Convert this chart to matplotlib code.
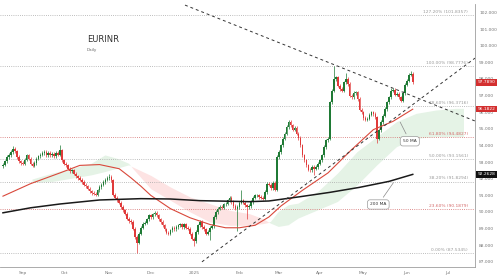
import numpy as np
import pandas as pd
import matplotlib
matplotlib.use("Agg")
from matplotlib import pyplot as plt

symbol = "EURINR"
timeframe = "Daily"
start_date = "2024-08-19"

# daily closes, one per trading day
closes = [
    92.85, 93.05, 93.30, 93.42, 93.60, 93.80, 93.65, 93.30, 93.05, 92.95,
    92.90, 93.15, 93.40, 93.20, 92.90, 92.78, 92.95, 93.20, 93.35, 93.45,
    93.55, 93.60, 93.40, 93.55, 93.40, 93.50, 93.35, 93.55, 93.45, 93.70,
    93.10, 92.90, 92.80, 92.60, 92.45, 92.50, 92.30, 92.15, 92.05, 91.95,
    91.80, 91.65, 91.55, 91.40, 91.25, 91.15, 91.10, 91.05, 91.30, 91.50,
    91.65, 91.80, 91.95, 92.05, 92.10, 91.90, 91.05, 90.85, 90.70, 90.55,
    90.30, 90.10, 89.90, 89.60, 89.45, 89.40, 89.00, 88.50, 88.15, 88.70,
    89.05, 89.30, 89.35, 89.55, 89.80, 89.70, 89.85, 89.95, 89.80, 89.55,
    89.40, 89.20, 88.95, 88.75, 88.70, 88.90, 89.05, 88.95, 89.10, 89.20,
    89.25, 89.10, 89.25, 89.05, 89.00, 88.70, 88.40, 88.25, 88.80, 89.20,
    89.40, 89.10, 88.95, 88.70, 88.80, 89.05, 89.15, 89.70, 90.00, 90.20,
    90.30, 90.25, 90.45, 90.50, 90.70, 90.85, 90.60, 90.35, 90.20, 90.30,
    90.55, 90.70, 90.55, 90.40, 90.30, 90.35, 90.60, 90.85, 91.00, 91.00,
    90.90, 90.85, 90.80, 91.20, 91.70, 91.65, 91.45, 91.75, 91.35, 93.30,
    93.60, 94.00, 94.40, 94.70, 95.10, 95.40, 95.20, 94.95, 95.05, 94.70,
    94.45, 94.00, 93.40, 93.10, 92.80, 92.55, 92.50, 92.70, 92.60, 92.70,
    92.90, 93.10, 93.40, 93.90, 94.30, 94.40, 96.60, 97.30, 98.00, 98.10,
    97.60, 97.40, 97.30, 97.80, 98.00, 97.70, 97.00, 96.90, 97.15, 97.20,
    96.80, 96.15, 96.00, 95.65, 95.55, 95.60, 95.85, 96.00, 95.90, 95.70,
    94.40, 94.90, 95.40, 95.80, 96.20, 96.60, 96.90, 97.30, 97.35, 97.05,
    97.10, 96.90, 96.70, 97.15, 97.65, 97.90, 98.25, 98.30, 97.79,
]
first_open = 92.75
wick_highs = {5: 93.95, 29: 94.05, 54: 92.30, 121: 91.30, 145: 95.55, 168: 98.78,
              174: 98.35, 197: 97.45, 207: 98.50}
wick_lows = {68: 87.53, 97: 87.95, 105: 88.30, 119: 88.85, 124: 89.60, 158: 92.25,
             190: 94.15}

# moving averages (bar index, value)
ma50_idx = [0, 14, 29, 39, 49, 59, 65, 70, 75, 85, 95, 105, 113, 120, 128, 135,
            141, 152, 165, 177, 188, 198, 208]
ma50_val = [90.95, 91.70, 92.35, 92.80, 92.85, 92.60, 92.05, 91.55, 91.00, 90.20,
            89.65, 89.25, 89.05, 89.05, 89.20, 89.70, 90.35, 91.30, 92.35, 93.75,
            94.95, 95.45, 96.18]
ma200_idx = [0, 14, 29, 49, 70, 85, 100, 125, 135, 151, 166, 181, 196, 208]
ma200_val = [89.95, 90.25, 90.48, 90.72, 90.80, 90.78, 90.68, 90.62, 90.66, 90.92,
             91.18, 91.48, 91.84, 92.26]

# ichimoku cloud, leading spans (bar index, value)
cloud_idx = [15, 25, 35, 45, 52, 58, 64, 66, 75, 85, 95, 105, 115, 125, 132, 136,
             140, 145, 150, 160, 170, 180, 190, 200, 210, 220, 230, 234]
span_a = [91.95, 92.30, 92.60, 92.90, 93.40, 93.20, 92.90, 92.60, 91.40, 90.70,
          90.00, 89.40, 89.20, 89.20, 89.30, 89.40, 90.00, 90.40, 90.50, 91.20,
          92.30, 93.60, 94.50, 95.40, 95.90, 96.10, 96.20, 96.20]
span_b = [91.75, 91.80, 92.00, 92.20, 92.40, 92.60, 92.80, 92.70, 92.20, 91.50,
          90.90, 90.50, 90.10, 89.90, 89.60, 89.30, 89.10, 89.20, 89.60, 90.10,
          90.60, 91.60, 92.80, 93.90, 94.40, 94.50, 94.50, 94.50]

fib_names = ["127.20%", "100.00%", "78.60%", "61.80%", "50.00%", "38.20%", "23.60%", "0.00%"]
fib_values = [101.8357, 98.7776, 96.3716, 94.4827, 93.1561, 91.8294, 90.1879, 87.5345]
fib_red = ["61.80%", "23.60%"]

trend_down = ([92.4, 239.6], [102.44, 95.47])
trend_up = ([101.0, 239.6], [87.00, 99.25])

last_price = 97.7890
ma50_last = 96.1822
ma200_last = 92.2628

month_labels = ["Sep", "Oct", "Nov", "Dec", "2025", "Feb", "Mar", "Apr", "May", "Jun", "Jul"]

UP = "#1f7a35"
DOWN = "#e03a3a"

fig = plt.figure(figsize=(5, 2.8), dpi=100)
ax = fig.add_axes([0, 0.0464, 0.95, 0.939])

# cloud
ax.fill_between(cloud_idx, span_a, span_b, where=np.array(span_a) >= np.array(span_b),
                interpolate=True, color="#e5f3e6", lw=0, zorder=1)
ax.fill_between(cloud_idx, span_a, span_b, where=np.array(span_a) < np.array(span_b),
                interpolate=True, color="#fde3e3", lw=0, zorder=1)

# fibonacci levels
for name, val in zip(fib_names, fib_values):
    col = "#d46a6a" if name in fib_red else "#9a9a9a"
    ax.axhline(val, color=col if name in fib_red else "#a8a8a8", lw=0.6,
               ls=(0, (1, 1.6)), zorder=2)
    ax.text(236, val + 0.08, f"{name} ({val:.4f})", fontsize=3.2, color=col,
            ha="right", va="bottom", zorder=6)

# candles
closes = np.array(closes)
opens = np.concatenate([[first_open], closes[:-1]])
idx = np.arange(len(closes))
highs = np.maximum(opens, closes) + 0.1
lows = np.minimum(opens, closes) - 0.1
for k, v in wick_highs.items():
    highs[k] = v
for k, v in wick_lows.items():
    lows[k] = v
colors = np.where(closes >= opens, UP, DOWN)
ax.vlines(idx, lows, highs, colors=colors, lw=0.5, zorder=4)
body = np.maximum(np.abs(closes - opens), 0.04)
ax.bar(idx, body, bottom=np.minimum(opens, closes), width=0.8, color=colors, lw=0, zorder=4)

# moving averages
ax.plot(ma50_idx, ma50_val, color="#d9483b", lw=0.8, zorder=5)
ax.plot(ma200_idx, ma200_val, color="#1a1a1a", lw=1.1, zorder=5)

# trend lines
ax.plot(*trend_down, color="#333333", lw=0.7, ls=(0, (3, 3)), zorder=5)
ax.plot(*trend_up, color="#333333", lw=0.7, ls=(0, (3, 3)), zorder=5)

# callouts
box = dict(boxstyle="round,pad=0.6", fc="white", ec="#999999", lw=0.5)
ax.annotate("50 MA", xy=(201, 95.55), xytext=(206.5, 94.25), fontsize=3.2, color="#333333",
            ha="center", va="center", bbox=box, zorder=7,
            arrowprops=dict(arrowstyle="-", color="#888888", lw=0.5))
ax.annotate("200 MA", xy=(199, 91.9), xytext=(190.5, 90.45), fontsize=3.2, color="#333333",
            ha="center", va="center", bbox=box, zorder=7,
            arrowprops=dict(arrowstyle="-", color="#888888", lw=0.5))

# title
ax.text(0.183, 0.865, symbol, transform=ax.transAxes, fontsize=6, color="#333333",
        va="center", ha="left")
ax.text(0.183, 0.825, timeframe, transform=ax.transAxes, fontsize=3, color="#666666",
        va="center", ha="left")

# price tags on the right axis
for val, fc in [(last_price, "#d32f2f"), (ma50_last, "#d32f2f"), (ma200_last, "#111111")]:
    ax.annotate(f"{val:.4f}", xy=(1.0, val), xycoords=("axes fraction", "data"),
                xytext=(2, 0), textcoords="offset points", fontsize=3.2, color="white",
                ha="left", va="center", annotation_clip=False, zorder=8,
                bbox=dict(boxstyle="square,pad=0.3", fc=fc, ec="none"))

# axes
dates = pd.bdate_range(start_date, periods=240)
month_pos = [i for i in range(1, len(dates)) if dates[i].month != dates[i - 1].month]
ax.set_xticks(month_pos[:len(month_labels)])
ax.set_xticklabels(month_labels)
ax.set_xlim(-1.5, 239.6)
ax.set_ylim(86.69, 102.5)
ax.yaxis.tick_right()
ax.set_yticks(np.arange(87, 103, 1))
ax.set_yticklabels([f"{v:.3f}" for v in np.arange(87, 103, 1)])
ax.tick_params(axis="both", length=0, labelsize=3.2, colors="#777777")
ax.tick_params(axis="y", pad=3)
ax.tick_params(axis="x", pad=3)
for side in ["left", "top"]:
    ax.spines[side].set_visible(False)
for side in ["right", "bottom"]:
    ax.spines[side].set_color("#9e9e9e")
    ax.spines[side].set_linewidth(0.6)

fig.savefig("out.png", dpi=100)
